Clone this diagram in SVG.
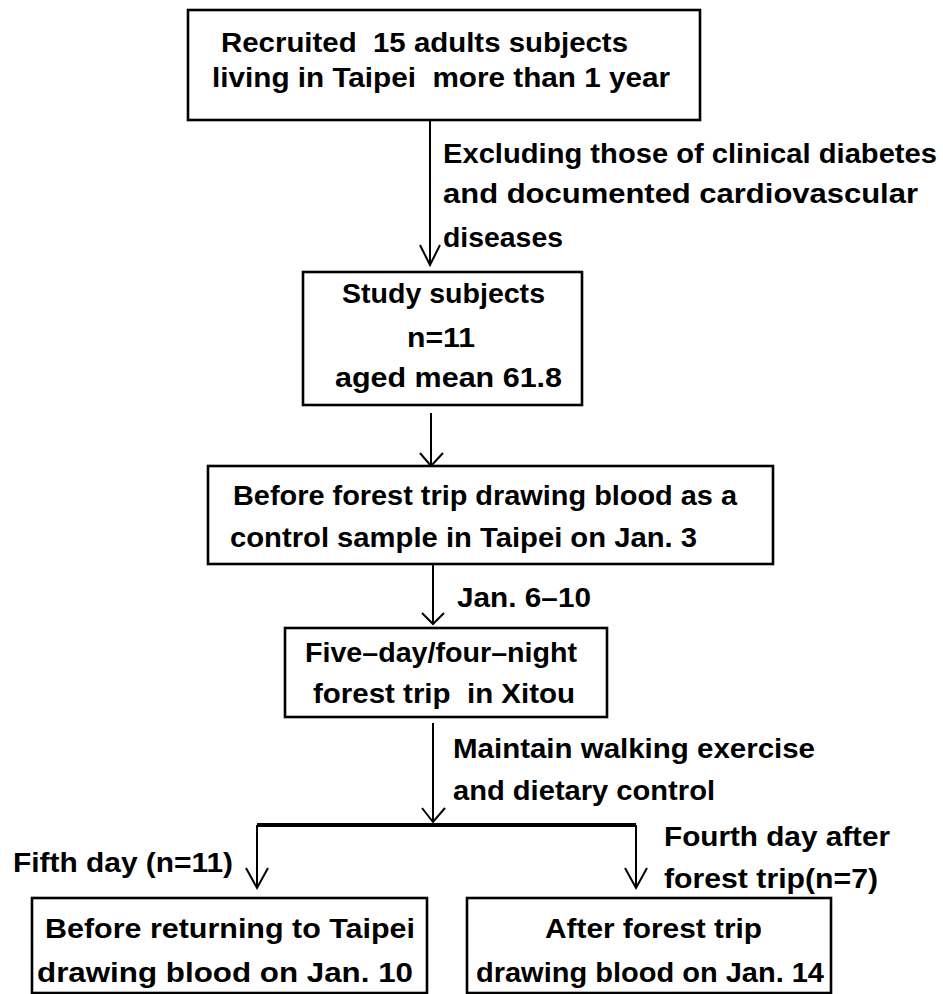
<svg xmlns="http://www.w3.org/2000/svg" width="943" height="994" viewBox="0 0 943 994">
<style>
.box{fill:#fff;stroke:#000;stroke-width:2.6}
.t{font-family:"Liberation Sans Narrow","Liberation Sans",Arial,sans-serif;font-weight:bold;font-size:27px;fill:#000;white-space:pre}
.c{fill:none;stroke:#000;stroke-width:2}
.h{fill:none;stroke:#000;stroke-width:4}
</style>
<rect width="943" height="994" fill="#fff"/>
<g id="connectors">
<path class="c" d="M430 121V265M420 245L430 265L440 245"/>
<path class="c" d="M431 413V466M420 453L431 466L443 453"/>
<path class="c" d="M433 564V624M422 613L433 624L444 613"/>
<path class="c" d="M433 723V822M422 808L433 822L445 808"/>
<path class="h" d="M257 825H636"/>
<path class="c" d="M257 825V888M246 868L257 888L268 868"/>
<path class="c" d="M636 825V888M625 868L636 888L647 868"/>
<g id="labels">
<text class="t" x="443" y="163" textLength="494" lengthAdjust="spacingAndGlyphs">Excluding those of clinical diabetes</text>
<text class="t" x="443" y="203" textLength="475" lengthAdjust="spacingAndGlyphs">and documented cardiovascular</text>
<text class="t" x="443" y="247" textLength="120" lengthAdjust="spacingAndGlyphs">diseases</text>
<text class="t" x="457" y="607" textLength="134" lengthAdjust="spacingAndGlyphs">Jan. 6–10</text>
<text class="t" x="453" y="758" textLength="362" lengthAdjust="spacingAndGlyphs">Maintain walking exercise</text>
<text class="t" x="453" y="800" textLength="262" lengthAdjust="spacingAndGlyphs">and dietary control</text>
<text class="t" x="13" y="872" textLength="220" lengthAdjust="spacingAndGlyphs">Fifth day (n=11)</text>
<text class="t" x="664" y="846" textLength="226" lengthAdjust="spacingAndGlyphs">Fourth day after</text>
<text class="t" x="664" y="888" textLength="214" lengthAdjust="spacingAndGlyphs">forest trip(n=7)</text>
</g>
</g>
<g id="n1">
<rect class="box" x="188" y="10" width="512" height="110"/>
<text class="t" x="221" y="52" textLength="407" lengthAdjust="spacingAndGlyphs" xml:space="preserve">Recruited  15 adults subjects</text>
<text class="t" x="212" y="87" textLength="458" lengthAdjust="spacingAndGlyphs" xml:space="preserve">living in Taipei  more than 1 year</text>
</g>
<g id="n2">
<rect class="box" x="303" y="272" width="279" height="133"/>
<text class="t" x="342" y="303" textLength="203" lengthAdjust="spacingAndGlyphs">Study subjects</text>
<text class="t" x="407" y="347" textLength="68" lengthAdjust="spacingAndGlyphs">n=11</text>
<text class="t" x="335" y="387" textLength="227" lengthAdjust="spacingAndGlyphs">aged mean 61.8</text>
</g>
<g id="n3">
<rect class="box" x="208" y="466" width="565" height="98"/>
<text class="t" x="233" y="505" textLength="504" lengthAdjust="spacingAndGlyphs">Before forest trip drawing blood as a</text>
<text class="t" x="230" y="547" textLength="467" lengthAdjust="spacingAndGlyphs">control sample in Taipei on Jan. 3</text>
</g>
<g id="n4">
<rect class="box" x="285" y="628" width="322" height="89"/>
<text class="t" x="305" y="662" textLength="272" lengthAdjust="spacingAndGlyphs">Five–day/four–night</text>
<text class="t" x="313" y="703" textLength="262" lengthAdjust="spacingAndGlyphs" xml:space="preserve">forest trip  in Xitou</text>
</g>
<g id="n5">
<rect class="box" x="32" y="898" width="395" height="95"/>
<text class="t" x="45" y="938" textLength="370" lengthAdjust="spacingAndGlyphs">Before returning to Taipei</text>
<text class="t" x="37" y="982" textLength="376" lengthAdjust="spacingAndGlyphs">drawing blood on Jan. 10</text>
</g>
<g id="n6">
<rect class="box" x="467" y="898" width="364" height="95"/>
<text class="t" x="545" y="938" textLength="217" lengthAdjust="spacingAndGlyphs">After forest trip</text>
<text class="t" x="476" y="982" textLength="348" lengthAdjust="spacingAndGlyphs">drawing blood on Jan. 14</text>
</g>
</svg>
